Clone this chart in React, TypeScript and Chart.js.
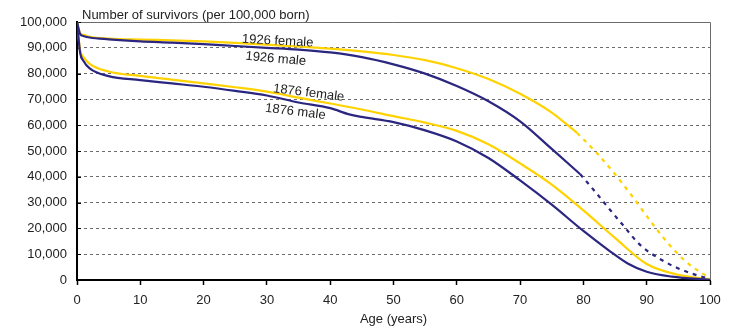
import React, { useEffect, useRef } from 'react';
import { Chart, registerables } from 'chart.js';

Chart.register(...registerables);

// Ages (years) and survivors per 100,000 born
const female1926Ages = [0, 0.5, 1, 2, 5, 10, 15, 20, 25, 30, 35, 40, 45, 50, 55, 60, 65, 70, 75, 79];
const female1926Vals = [100000, 95600, 95000, 94300, 93600, 93200, 92900, 92500, 91900, 91200, 90500, 89700, 88600, 87200, 85200, 82100, 77900, 72200, 64900, 57000];
const female1926ProjAges = [79, 82, 85, 88, 91, 94, 97, 100];
const female1926ProjVals = [57000, 49500, 41000, 31500, 21500, 12500, 5500, 800];

const male1926Ages = [0, 0.5, 1, 2, 5, 10, 15, 20, 25, 30, 35, 40, 45, 50, 55, 60, 65, 70, 75, 79.5];
const male1926Vals = [100000, 95300, 94600, 94000, 93300, 92500, 92000, 91400, 90700, 90000, 89300, 88200, 86400, 83600, 80000, 75200, 69300, 61500, 50800, 41000];
const male1926ProjAges = [79.5, 82, 84, 86, 89, 92, 95, 98, 100];
const male1926ProjVals = [41000, 33800, 27800, 22000, 13500, 8300, 4500, 1800, 500];

const female1876Ages = [0, 0.5, 1, 2, 5, 10, 15, 20, 25, 30, 35, 40, 45, 50, 55, 60, 65, 70, 75, 80, 85, 90, 95, 100];
const female1876Vals = [100000, 89000, 86500, 83800, 80800, 79100, 77700, 76200, 74700, 73000, 70700, 68400, 66100, 63500, 61000, 57800, 52600, 45200, 37000, 27000, 16300, 6200, 2000, 300];

const male1876Ages = [0, 0.5, 1, 2, 5, 10, 15, 20, 25, 30, 35, 40, 43, 45, 50, 55, 60, 65, 70, 75, 80, 84, 87, 90, 94, 100];
const male1876Vals = [100000, 88000, 85000, 82000, 79000, 77500, 76200, 74900, 73300, 71500, 68800, 66600, 64200, 63200, 61200, 58000, 53700, 47300, 38600, 29200, 19000, 11500, 6400, 3200, 1300, 100];

const xTicks = [0, 10, 20, 30, 40, 50, 60, 70, 80, 90, 100];

const TITLE = 'Number of survivors (per 100,000 born)';
const X_TITLE = 'Age (years)';

const SERIES_LABELS = [
  { text: '1926 female', age: 31.7, value: 92600, angle: 3 },
  { text: '1926 male', age: 31.4, value: 85700, angle: 5 },
  { text: '1876 female', age: 36.6, value: 72500, angle: 7 },
  { text: '1876 male', age: 34.5, value: 65200, angle: 7 },
];

const BLUE = '#2b2680';
const YELLOW = '#ffd200';
const FONT = '"Liberation Sans", Arial, sans-serif';
const TEXT = '#222222';

const pts = (a: number[], v: number[]) => a.map((x, i) => ({ x, y: v[i] }));

const decor = {
  id: 'decor',
  beforeDatasetsDraw(chart: any) {
    const { ctx, chartArea } = chart;
    const { left, right, top, bottom } = chartArea;
    ctx.save();
    ctx.strokeStyle = '#6b6b6b';
    ctx.lineWidth = 1;
    ctx.beginPath();
    ctx.moveTo(left, top + 0.5);
    ctx.lineTo(right + 0.5, top + 0.5);
    ctx.lineTo(right + 0.5, bottom);
    ctx.stroke();
    ctx.strokeStyle = '#000';
    ctx.beginPath();
    const ys = chart.scales.y;
    ys.ticks.forEach((t: any) => {
      const py = Math.round(ys.getPixelForValue(t.value)) + 0.5;
      ctx.moveTo(left, py);
      ctx.lineTo(left + 4, py);
    });
    ctx.stroke();
    ctx.restore();
  },
  afterDatasetsDraw(chart: any) {
    const { ctx } = chart;
    const xs = chart.scales.x;
    const ys = chart.scales.y;
    ctx.save();
    ctx.fillStyle = TEXT;
    ctx.font = `13px ${FONT}`;
    ctx.textBaseline = 'middle';
    ctx.textAlign = 'left';
    ctx.fillText(TITLE, xs.left + 5, 15);
    ctx.textAlign = 'center';
    ctx.fillText(X_TITLE, (xs.left + xs.right) / 2, 319);
    SERIES_LABELS.forEach((l) => {
      ctx.save();
      ctx.translate(xs.getPixelForValue(l.age), ys.getPixelForValue(l.value));
      ctx.rotate((l.angle * Math.PI) / 180);
      ctx.fillText(l.text, 0, 0);
      ctx.restore();
    });
    ctx.restore();
  },
};

export default function App() {
  const ref = useRef<HTMLCanvasElement>(null);
  useEffect(() => {
    document.body.style.margin = '0';
    if (!ref.current) return;
    const chart = new Chart(ref.current, {
      type: 'line',
      data: {
        datasets: [
          { data: pts(male1876Ages, male1876Vals), borderColor: BLUE },
          { data: pts(male1926Ages, male1926Vals), borderColor: BLUE },
          { data: pts(male1926ProjAges, male1926ProjVals), borderColor: BLUE, borderDash: [4, 5] },
          { data: pts(female1876Ages, female1876Vals), borderColor: YELLOW },
          { data: pts(female1926Ages, female1926Vals), borderColor: YELLOW },
          { data: pts(female1926ProjAges, female1926ProjVals), borderColor: YELLOW, borderDash: [4, 5] },
        ] as any,
      },
      options: {
        animation: false,
        responsive: false,
        elements: {
          point: { radius: 0 },
          line: { borderWidth: 2.2, cubicInterpolationMode: 'monotone', fill: false },
        },
        layout: { padding: { left: 0, right: 38, top: 22, bottom: 0 } },
        plugins: { legend: { display: false }, tooltip: { enabled: false } },
        scales: {
          x: {
            type: 'linear',
            min: 0,
            max: 100,
            afterBuildTicks: (s: any) => {
              s.ticks = xTicks.map((v) => ({ value: v }));
            },
            ticks: { font: { size: 13, family: FONT }, color: TEXT, padding: 8, maxRotation: 0, autoSkip: false },
            grid: { drawOnChartArea: false, tickLength: 5, tickColor: '#000', tickWidth: 1.5 },
            border: { color: '#000', width: 2 },
            afterFit: (s: any) => {
              s.height = 54;
            },
          },
          y: {
            min: 0,
            max: 100000,
            ticks: {
              stepSize: 10000,
              font: { size: 13, family: FONT },
              color: TEXT,
              padding: 10,
              callback: (v: any) => Number(v).toLocaleString('en-US'),
            },
            grid: {
              drawTicks: false,
              color: (c: any) =>
                c.tick && (c.tick.value === 0 || c.tick.value === 100000) ? 'rgba(0,0,0,0)' : '#6b6b6b',
              lineWidth: 1,
            },
            border: { color: '#000', width: 2, dash: [3, 3] },
            afterFit: (s: any) => {
              s.width = 77;
            },
          },
        },
      } as any,
      plugins: [decor],
    });
    return () => chart.destroy();
  }, []);
  return <canvas ref={ref} width={748} height={334} style={{ display: 'block' }} />;
}
